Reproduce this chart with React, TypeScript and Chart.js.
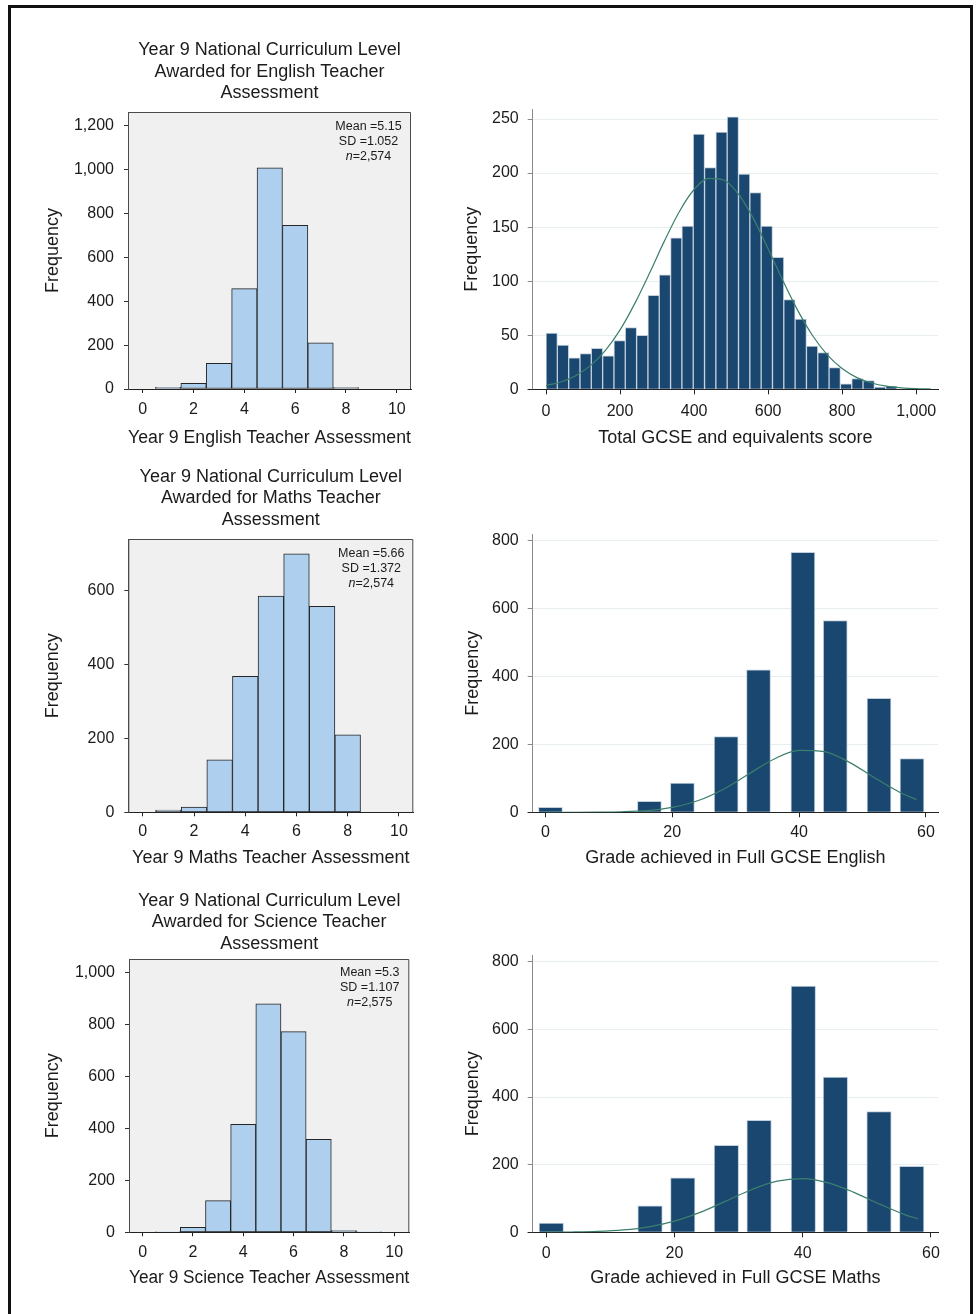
import React, { useEffect, useRef } from "react";
import { Chart, registerables } from "chart.js";

Chart.register(...registerables);

const FONT = "'Liberation Sans', Arial, Helvetica, sans-serif";
const INK = "#1b1b1b";

// ---------------- Left column: Year 9 teacher assessment levels ----------------
const TA_LEVELS_ENGLISH = [1, 2, 3, 4, 5, 6, 7, 8];
const TA_COUNTS_ENGLISH = [8, 26, 117, 457, 1008, 746, 210, 7];
const TA_LEVELS_MATHS = [1, 2, 3, 4, 5, 6, 7, 8];
const TA_COUNTS_MATHS = [6, 14, 142, 367, 584, 698, 556, 209];
const TA_LEVELS_SCIENCE = [1, 2, 3, 4, 5, 6, 7, 8, 9];
const TA_COUNTS_SCIENCE = [2, 19, 122, 415, 879, 772, 358, 7, 2];

const TA_X_TICKS = [0, 2, 4, 6, 8, 10];
const TA_Y_TICKS_ENGLISH = [0, 200, 400, 600, 800, 1000, 1200];
const TA_Y_TICKS_MATHS = [0, 200, 400, 600];
const TA_Y_TICKS_SCIENCE = [0, 200, 400, 600, 800, 1000];

const TITLE_ENGLISH = ["Year 9 National Curriculum Level", "Awarded for English Teacher", "Assessment"];
const TITLE_MATHS = ["Year 9 National Curriculum Level", "Awarded for Maths Teacher", "Assessment"];
const TITLE_SCIENCE = ["Year 9 National Curriculum Level", "Awarded for Science Teacher", "Assessment"];

const XTITLE_ENGLISH_TA = "Year 9 English Teacher Assessment";
const XTITLE_MATHS_TA = "Year 9 Maths Teacher Assessment";
const XTITLE_SCIENCE_TA = "Year 9 Science Teacher Assessment";

// [mean, sd, n]
const STATS_ENGLISH = ["5.15", "1.052", "2,574"];
const STATS_MATHS = ["5.66", "1.372", "2,574"];
const STATS_SCIENCE = ["5.3", "1.107", "2,575"];

// ---------------- Right column: GCSE outcomes ----------------
const TOTAL_BIN_WIDTH = 30.59;
const TOTAL_COUNTS = [52, 41, 29, 33, 38, 31, 45, 57, 50, 87, 106, 140, 151, 236, 205, 238, 252, 199, 182, 151, 122, 83, 65, 40, 34, 20, 5, 10, 8, 2, 3];
const TOTAL_CURVE_X = [0, 40, 80, 120, 160, 200, 240, 280, 320, 360, 400, 440, 480, 520, 560, 600, 640, 680, 720, 760, 800, 840, 880, 920, 960, 1000, 1040];
const TOTAL_CURVE_Y = [3.5, 6.8, 12.6, 21.9, 35.8, 55.0, 79.5, 107.7, 137.3, 164.3, 184.8, 195.1, 193.6, 180.5, 158.1, 130.0, 100.5, 73.0, 49.8, 31.9, 19.2, 10.8, 5.8, 2.9, 1.4, 0.6, 0.3];
const TOTAL_X_TICKS = [0, 200, 400, 600, 800, 1000];
const TOTAL_Y_TICKS = [0, 50, 100, 150, 200, 250];

const ENG_GRADE_X = [0.8, 16.4, 21.6, 28.5, 33.6, 40.6, 45.7, 52.6, 57.8];
const ENG_GRADE_COUNTS = [15, 32, 86, 223, 420, 766, 565, 336, 158];
const ENG_CURVE_X = [0, 4, 8, 12, 16, 20, 24, 28, 32, 36, 40, 44, 48, 52, 56, 58.5];
const ENG_CURVE_Y = [0, 0.1, 0.4, 1.5, 5.0, 14.3, 33.9, 67.4, 112.2, 156.5, 182.7, 178.7, 146.4, 100.4, 57.7, 37.3];

const MATHS_GRADE_X = [0.8, 16.2, 21.3, 28.1, 33.2, 40.1, 45.1, 51.9, 57.0];
const MATHS_GRADE_COUNTS = [27, 78, 161, 257, 331, 728, 459, 357, 195];
const MATHS_CURVE_X = [0, 4, 8, 12, 16, 20, 24, 28, 32, 36, 40, 44, 48, 52, 56, 58];
const MATHS_CURVE_Y = [0.3, 0.9, 2.6, 7.0, 16.2, 33.0, 58.9, 92.1, 126.0, 151.2, 158.8, 146.2, 118.0, 83.4, 51.6, 40.0];

const GRADE_X_TICKS = [0, 20, 40, 60];
const GRADE_Y_TICKS = [0, 200, 400, 600, 800];

const fmt = (v: any) => Number(v).toLocaleString("en-US");
const fixTicks = (arr: number[]) => (s: any) => {
  s.ticks = arr.map((value) => ({ value }));
};

function leftConfig(o: any): any {
  const bars = o.levels.map((x: number, i: number) => ({ x, y: o.counts[i] }));
  const plugin = {
    id: "plotFrame",
    beforeDraw(chart: any) {
      const { ctx, chartArea: a } = chart;
      ctx.save();
      ctx.fillStyle = "#f0f0f0";
      ctx.fillRect(a.left, a.top, a.right - a.left, a.bottom - a.top);
      ctx.restore();
    },
    afterDatasetsDraw(chart: any) {
      const { ctx, chartArea: a } = chart;
      ctx.save();
      ctx.strokeStyle = "#4a4a4a";
      ctx.lineWidth = 1;
      ctx.beginPath();
      ctx.moveTo(a.left + 0.5, a.bottom);
      ctx.lineTo(a.left + 0.5, a.top + 0.5);
      ctx.lineTo(a.right - 0.5, a.top + 0.5);
      ctx.lineTo(a.right - 0.5, a.bottom);
      ctx.stroke();
      // statistics box
      const cx = a.right - o.statsDx;
      const y0 = a.top + o.statsDy;
      ctx.fillStyle = INK;
      ctx.textBaseline = "middle";
      ctx.textAlign = "center";
      ctx.font = `12.5px ${FONT}`;
      ctx.fillText(`Mean =${o.stats[0]}`, cx, y0);
      ctx.fillText(`SD =${o.stats[1]}`, cx, y0 + 15);
      const rest = `=${o.stats[2]}`;
      ctx.font = `italic 12.5px ${FONT}`;
      const wN = ctx.measureText("n").width;
      ctx.font = `12.5px ${FONT}`;
      const wR = ctx.measureText(rest).width;
      const start = cx - (wN + wR) / 2;
      ctx.textAlign = "left";
      ctx.font = `italic 12.5px ${FONT}`;
      ctx.fillText("n", start, y0 + 30);
      ctx.font = `12.5px ${FONT}`;
      ctx.fillText(rest, start + wN, y0 + 30);
      ctx.restore();
    },
  };
  return {
    type: "bar",
    data: {
      datasets: [
        {
          data: bars,
          backgroundColor: "#afcfee",
          borderColor: "#262626",
          borderWidth: 1,
          borderSkipped: false,
          barPercentage: 1,
          categoryPercentage: 1,
        },
      ],
    },
    options: {
      responsive: false,
      animation: false,
      devicePixelRatio: 1,
      layout: { autoPadding: false, padding: { top: 0, left: 0, bottom: 0, right: o.padRight } },
      plugins: {
        legend: { display: false },
        tooltip: { enabled: false },
        title: {
          display: true,
          text: o.title,
          fullSize: false,
          color: INK,
          font: { family: FONT, size: 18, weight: "normal", lineHeight: 1.2 },
          padding: { top: o.titleTop, bottom: o.titleBottom },
        },
      },
      scales: {
        x: {
          type: "linear",
          min: o.xMin,
          max: o.xMax,
          offset: false,
          afterBuildTicks: fixTicks(TA_X_TICKS),
          afterFit: (s: any) => {
            s.height = o.xHeight;
          },
          ticks: { color: INK, font: { family: FONT, size: 16 }, padding: o.xTickPad, maxRotation: 0, autoSkip: false, callback: fmt },
          grid: { display: true, offset: false, drawOnChartArea: false, drawTicks: true, tickLength: 4, color: "#222", tickColor: "#222" },
          border: { display: true, color: "#222", width: 1 },
          title: { display: true, text: o.xTitle, color: INK, font: { family: FONT, size: 18 }, padding: { top: 0, bottom: o.xTitleBottom } },
        },
        y: {
          type: "linear",
          min: 0,
          max: o.yMax,
          afterBuildTicks: fixTicks(o.yTicks),
          afterFit: (s: any) => {
            s.width = o.yWidth;
          },
          ticks: { color: INK, font: { family: FONT, size: 16 }, padding: 10, autoSkip: false, callback: fmt },
          grid: { display: true, drawOnChartArea: false, drawTicks: true, tickLength: 4, color: "#333", tickColor: "#333" },
          border: { display: true, color: "#4a4a4a", width: 1 },
          title: { display: true, text: "Frequency", color: INK, font: { family: FONT, size: 18 }, padding: { top: o.yTitleTop, bottom: 0 } },
        },
      },
    },
    plugins: [plugin],
  };
}

function rightConfig(o: any): any {
  const bars = o.x.map((x: number, i: number) => ({ x, y: o.counts[i] }));
  const curve = o.curveX.map((x: number, i: number) => ({ x, y: o.curveY[i] }));
  const plugin = {
    id: "axisFoot",
    beforeDatasetsDraw(chart: any) {
      const { ctx, chartArea: a } = chart;
      ctx.save();
      ctx.strokeStyle = "#222";
      ctx.lineWidth = 1;
      ctx.beginPath();
      ctx.moveTo(a.left - 5, Math.round(a.bottom) + 0.5);
      ctx.lineTo(a.left, Math.round(a.bottom) + 0.5);
      ctx.stroke();
      ctx.restore();
    },
  };
  return {
    type: "bar",
    data: {
      datasets: [
        {
          type: "line",
          data: curve,
          borderColor: "#3b7f6c",
          borderWidth: 1.2,
          pointRadius: 0,
          pointHoverRadius: 0,
          cubicInterpolationMode: "monotone",
          fill: false,
          order: 0,
        },
        {
          type: "bar",
          data: bars,
          backgroundColor: "#1a476f",
          borderColor: "#c2cfdb",
          borderWidth: 1,
          borderSkipped: "start",
          barPercentage: 1,
          categoryPercentage: 1,
          barThickness: o.barThickness,
          order: 1,
        },
      ],
    },
    options: {
      responsive: false,
      animation: false,
      devicePixelRatio: 1,
      layout: { autoPadding: false, padding: { top: o.padTop, left: 0, bottom: 0, right: o.padRight } },
      plugins: { legend: { display: false }, tooltip: { enabled: false }, title: { display: false } },
      scales: {
        x: {
          type: "linear",
          min: o.xMin,
          max: o.xMax,
          offset: false,
          afterBuildTicks: fixTicks(o.xTicks),
          afterFit: (s: any) => {
            s.height = o.xHeight;
          },
          ticks: { color: INK, font: { family: FONT, size: 16 }, padding: o.xTickPad, maxRotation: 0, autoSkip: false, callback: fmt },
          grid: { display: true, offset: false, drawOnChartArea: false, drawTicks: true, tickLength: 5, color: "#222", tickColor: "#222" },
          border: { display: true, color: "#222", width: 1 },
          title: { display: true, text: o.xTitle, color: INK, font: { family: FONT, size: 18 }, padding: { top: 0, bottom: o.xTitleBottom } },
        },
        y: {
          type: "linear",
          min: 0,
          max: o.yMax,
          afterBuildTicks: fixTicks(o.yTicks),
          afterFit: (s: any) => {
            s.width = o.yWidth;
          },
          ticks: { color: INK, font: { family: FONT, size: 16 }, padding: 9, autoSkip: false, callback: fmt },
          grid: { display: true, drawOnChartArea: true, drawTicks: true, tickLength: 5, color: "#e6eef0", tickColor: "#8a8a8a" },
          border: { display: true, color: "#8a8a8a", width: 1 },
          title: { display: true, text: "Frequency", color: INK, font: { family: FONT, size: 18 }, padding: { top: o.yTitleTop, bottom: 0 } },
        },
      },
    },
    plugins: [plugin],
  };
}

function Panel({ left, top, width, height, config }: any) {
  const ref = useRef<HTMLCanvasElement | null>(null);
  useEffect(() => {
    if (!ref.current) return;
    const chart = new Chart(ref.current, config);
    return () => chart.destroy();
  }, []);
  return (
    <canvas
      ref={ref}
      width={width}
      height={height}
      style={{ position: "absolute", left, top, width, height }}
    />
  );
}

const configs = {
  l1: leftConfig({
    levels: TA_LEVELS_ENGLISH, counts: TA_COUNTS_ENGLISH, title: TITLE_ENGLISH, xTitle: XTITLE_ENGLISH_TA, stats: STATS_ENGLISH,
    yTicks: TA_Y_TICKS_ENGLISH,
    xMin: -0.58, xMax: 10.56, yMax: 1262, padRight: 29, yWidth: 108, xHeight: 71, titleTop: 9.2, titleBottom: 8,
    xTickPad: 7, xTitleBottom: 11.2, yTitleTop: 21.9, statsDx: 42.5, statsDy: 14.5,
  }),
  l2: leftConfig({
    levels: TA_LEVELS_MATHS, counts: TA_COUNTS_MATHS, title: TITLE_MATHS, xTitle: XTITLE_MATHS_TA, stats: STATS_MATHS,
    yTicks: TA_Y_TICKS_MATHS,
    xMin: -0.566, xMax: 10.56, yMax: 738, padRight: 26.7, yWidth: 108.3, xHeight: 67.7, titleTop: 5.9, titleBottom: 8.3,
    xTickPad: 5.8, xTitleBottom: 10.9, yTitleTop: 21.9, statsDx: 42, statsDy: 15,
  }),
  l3: leftConfig({
    levels: TA_LEVELS_SCIENCE, counts: TA_COUNTS_SCIENCE, title: TITLE_SCIENCE, xTitle: XTITLE_SCIENCE_TA, stats: STATS_SCIENCE,
    yTicks: TA_Y_TICKS_SCIENCE,
    xMin: -0.54, xMax: 10.6, yMax: 1051, padRight: 30.7, yWidth: 109, xHeight: 67.7, titleTop: 9.9, titleBottom: 4.3,
    xTickPad: 6.8, xTitleBottom: 10.9, yTitleTop: 21.9, statsDx: 39.6, statsDy: 14,
  }),
  r1: rightConfig({
    x: TOTAL_COUNTS.map((_, i) => (i + 0.5) * TOTAL_BIN_WIDTH), counts: TOTAL_COUNTS, curveX: TOTAL_CURVE_X, curveY: TOTAL_CURVE_Y,
    xTicks: TOTAL_X_TICKS, yTicks: TOTAL_Y_TICKS,
    xTitle: "Total GCSE and equivalents score", xMin: -36, xMax: 1059, yMax: 259,
    padTop: 19.3, padRight: 27, yWidth: 92.7, xHeight: 70.7, xTickPad: 7.8, xTitleBottom: 10.9, yTitleTop: 21.7,
  }),
  r2: rightConfig({
    x: ENG_GRADE_X, counts: ENG_GRADE_COUNTS, curveX: ENG_CURVE_X, curveY: ENG_CURVE_Y, barThickness: 24,
    xTicks: GRADE_X_TICKS, yTicks: GRADE_Y_TICKS,
    xTitle: "Grade achieved in Full GCSE English", xMin: -2, xMax: 61.9, yMax: 820,
    padTop: 34, padRight: 27, yWidth: 92.7, xHeight: 67.7, xTickPad: 5.8, xTitleBottom: 10.9, yTitleTop: 22,
  }),
  r3: rightConfig({
    x: MATHS_GRADE_X, counts: MATHS_GRADE_COUNTS, curveX: MATHS_CURVE_X, curveY: MATHS_CURVE_Y, barThickness: 24.5,
    xTicks: GRADE_X_TICKS, yTicks: GRADE_Y_TICKS,
    xTitle: "Grade achieved in Full GCSE Maths", xMin: -2.1, xMax: 61.1, yMax: 820,
    padTop: 35, padRight: 27, yWidth: 92.7, xHeight: 67.7, xTickPad: 6.8, xTitleBottom: 10.9, yTitleTop: 22,
  }),
};

export default function App() {
  return (
    <div style={{ position: "absolute", left: 0, top: 0, width: 976, height: 1314, background: "#fff", overflow: "hidden" }}>
      <div
        style={{
          position: "absolute",
          left: 8,
          top: 5,
          width: 965,
          height: 1309,
          boxSizing: "border-box",
          borderTop: "3px solid #111",
          borderLeft: "3px solid #111",
          borderRight: "3px solid #111",
        }}
      />
      <Panel left={20} top={30} width={420} height={430} config={configs.l1} />
      <Panel left={20} top={460} width={420} height={420} config={configs.l2} />
      <Panel left={20} top={880} width={420} height={420} config={configs.l3} />
      <Panel left={440} top={90} width={525} height={370} config={configs.r1} />
      <Panel left={440} top={500} width={525} height={380} config={configs.r2} />
      <Panel left={440} top={920} width={525} height={380} config={configs.r3} />
    </div>
  );
}
